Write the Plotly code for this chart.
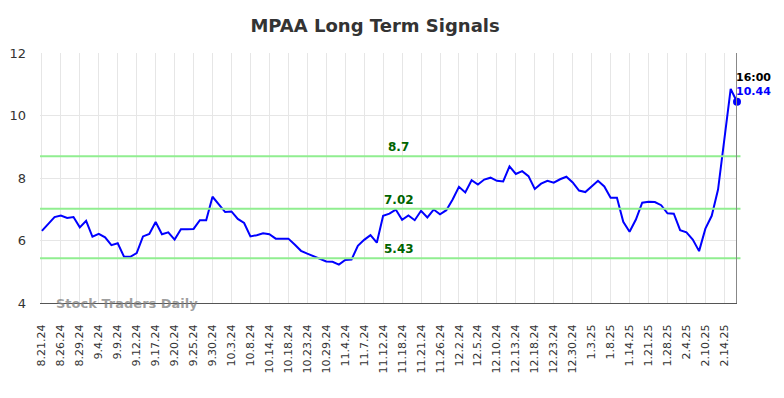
import plotly.graph_objects as go

tick_labels = ["8.21.24", "8.26.24", "8.29.24", "9.4.24", "9.9.24", "9.12.24", "9.17.24",
               "9.20.24", "9.25.24", "9.30.24", "10.3.24", "10.8.24", "10.14.24", "10.18.24",
               "10.23.24", "10.29.24", "11.4.24", "11.7.24", "11.12.24", "11.18.24", "11.21.24",
               "11.26.24", "12.2.24", "12.5.24", "12.10.24", "12.13.24", "12.18.24", "12.23.24",
               "12.30.24", "1.3.25", "1.8.25", "1.14.25", "1.21.25", "1.28.25", "2.4.25",
               "2.10.25", "2.14.25"]

values = [6.31, 6.53, 6.75, 6.80, 6.72, 6.75, 6.42, 6.63, 6.12, 6.21,
          6.10, 5.85, 5.91, 5.48, 5.48, 5.60, 6.13, 6.21, 6.59, 6.20,
          6.26, 6.03, 6.36, 6.36, 6.37, 6.65, 6.65, 7.40, 7.16, 6.91,
          6.93, 6.69, 6.56, 6.13, 6.17, 6.23, 6.20, 6.06, 6.06, 6.06,
          5.87, 5.67, 5.58, 5.49, 5.42, 5.33, 5.32, 5.23, 5.38, 5.39,
          5.83, 6.02, 6.17, 5.93, 6.79, 6.86, 6.99, 6.66, 6.80, 6.65,
          6.95, 6.74, 6.99, 6.84, 6.97, 7.31, 7.72, 7.54, 7.93, 7.79,
          7.95, 8.01, 7.91, 7.89, 8.37, 8.13, 8.22, 8.06, 7.65, 7.82,
          7.91, 7.85, 7.96, 8.04, 7.86, 7.60, 7.55, 7.73, 7.91, 7.73,
          7.37, 7.37, 6.60, 6.28, 6.67, 7.21, 7.24, 7.23, 7.13, 6.87,
          6.86, 6.33, 6.26, 6.03, 5.66, 6.38, 6.79, 7.63, 9.33, 10.85,
          10.44]

levels = [8.7, 7.02, 5.43]
level_labels = ["8.7", "7.02", "5.43"]
last_time = "16:00"

x_idx = list(range(len(values)))
tick_step = 3
tickvals = [i * tick_step for i in range(len(tick_labels))]
last_x = x_idx[-1]
mid_x = 56.5

fig = go.Figure()
fig.add_trace(go.Scatter(x=x_idx, y=values, mode="lines",
                         line=dict(color="#0000ff", width=2), hoverinfo="skip"))
fig.add_trace(go.Scatter(x=[last_x], y=[values[-1]], mode="markers",
                         marker=dict(color="#0000ff", size=8), hoverinfo="skip", cliponaxis=False))

for lv, lb in zip(levels, level_labels):
    fig.add_shape(type="line", xref="paper", x0=0, x1=1.005, yref="y", y0=lv, y1=lv,
                  line=dict(color="#90ee90", width=2))
    fig.add_annotation(x=mid_x, y=lv, xref="x", yref="y", text=lb, showarrow=False,
                       yanchor="middle", yshift=9,
                       font=dict(family="DejaVu Sans", size=12, color="#006400", weight="bold"))

fig.add_shape(type="line", xref="x", x0=last_x, x1=last_x, yref="paper", y0=0, y1=1,
              line=dict(color="#888888", width=2))

fig.add_annotation(x=last_x, y=values[-1], xref="x", yref="y", text=last_time,
                   showarrow=False, xanchor="left", yanchor="middle", xshift=-3, yshift=24,
                   font=dict(family="DejaVu Sans", size=11, color="#000000", weight="bold"))
fig.add_annotation(x=last_x, y=values[-1], xref="x", yref="y", text=f"{values[-1]:.2f}",
                   showarrow=False, xanchor="left", yanchor="middle", xshift=-3, yshift=10,
                   font=dict(family="DejaVu Sans", size=11, color="#0000ff", weight="bold"))

fig.add_annotation(x=0.02, y=4, xref="paper", yref="y", text="Stock Traders Daily",
                   showarrow=False, xanchor="left", yanchor="middle",
                   font=dict(family="DejaVu Sans", size=13, color="rgba(128,128,128,0.75)", weight="bold"))

fig.update_layout(
    width=776, height=390,
    margin=dict(l=32, r=47, t=45, b=95),
    paper_bgcolor="white", plot_bgcolor="white",
    showlegend=False,
    title=dict(text="MPAA Long Term Signals", x=0.473, xref="container", xanchor="center",
               y=0.954, yref="container", yanchor="middle",
               font=dict(family="DejaVu Sans", size=18, color="#333333", weight="bold")),
    xaxis=dict(range=[-0.3, last_x], tickmode="array", tickvals=tickvals, ticktext=tick_labels,
               tickangle=-90, showgrid=True, gridcolor="#e6e6e6", gridwidth=1,
               showline=True, linecolor="#555555", linewidth=1, zeroline=False,
               ticklabelstandoff=16, automargin=False,
               tickfont=dict(family="DejaVu Sans", size=11, color="#333333"), ticks=""),
    yaxis=dict(range=[4, 12], tickvals=[4, 6, 8, 10, 12], showgrid=True, gridcolor="#e6e6e6",
               zeroline=False, ticks="", ticklabelstandoff=13, automargin=False,
               tickfont=dict(family="DejaVu Sans", size=13, color="#333333")),
)

fig.write_html("out.html")
